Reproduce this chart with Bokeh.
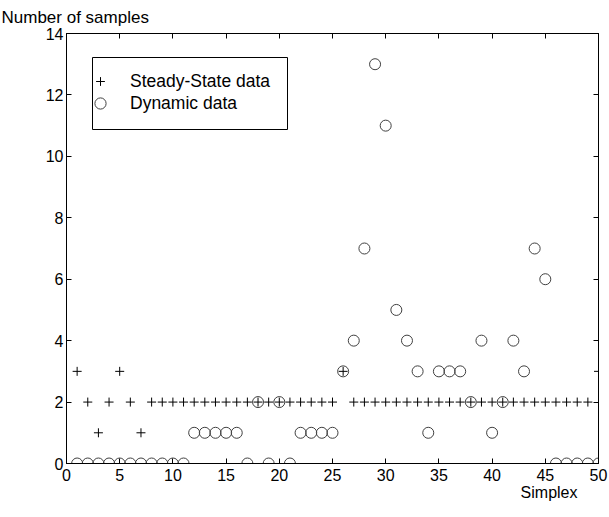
from bokeh.plotting import figure
from bokeh.models import (Range1d, FixedTicker, LinearAxis, Legend, LegendItem,
                          Title, BoxAnnotation, ColumnDataSource)
from bokeh.embed import file_html
from bokeh.resources import INLINE

# ---- data ----
simplex = list(range(1, 51))
steady_state = [3, 2, 1, 2, 3, 2, 1, 2, 2, 2,
                2, 2, 2, 2, 2, 2, 2, 2, 2, 2,
                2, 2, 2, 2, 2, 3, 2, 2, 2, 2,
                2, 2, 2, 2, 2, 2, 2, 2, 2, 2,
                2, 2, 2, 2, 2, 2, 2, 2, 2, 3]
dynamic = [0, 0, 0, 0, 0, 0, 0, 0, 0, 0,
           0, 1, 1, 1, 1, 1, 0, 2, 0, 2,
           0, 1, 1, 1, 1, 3, 4, 7, 13, 11,
           5, 4, 3, 1, 3, 3, 3, 2, 4, 1,
           2, 4, 3, 7, 6, 0, 0, 0, 0, 0]
x_ticks = [0, 5, 10, 15, 20, 25, 30, 35, 40, 45, 50]
y_ticks = [0, 2, 4, 6, 8, 10, 12, 14]
x_label = "Simplex"
y_label = "Number of samples"
series_names = ["Steady-State data", "Dynamic data"]

FONT = "Liberation Sans"
X0, X1, Y0, Y1 = 0, 50, 0, 14
FW, FH = 532, 430

src = ColumnDataSource(dict(x=simplex, ss=steady_state, dyn=dynamic))

p = figure(frame_width=FW, frame_height=FH,
           min_border_left=66, min_border_right=11,
           min_border_top=33, min_border_bottom=54,
           x_range=Range1d(X0, X1), y_range=Range1d(Y0, Y1),
           output_backend="svg", toolbar_location=None, title=None,
           x_axis_location=None, y_axis_location=None)
p.grid.visible = False
p.outline_line_color = "black"
p.outline_line_width = 1
p.background_fill_color = "white"
p.border_fill_color = "white"

def make_axis(ticks, show_labels):
    ax = LinearAxis(ticker=FixedTicker(ticks=ticks))
    ax.major_tick_in = 5
    ax.major_tick_out = 0
    ax.minor_tick_line_color = None
    ax.axis_line_color = "black"
    ax.major_tick_line_color = "black"
    ax.major_label_text_font = FONT
    ax.major_label_text_font_size = "16px"
    ax.major_label_text_color = "black"
    if not show_labels:
        # tick marks only (box style), labels not drawn
        ax.major_label_text_font_size = "1px"
        ax.major_label_text_color = None
        ax.major_label_standoff = 0
    return ax

bottom = make_axis(x_ticks, True)
bottom.major_label_standoff = 5
left = make_axis(y_ticks, True)
left.major_label_standoff = 3
top = make_axis(x_ticks, False)
right = make_axis(y_ticks, False)
p.add_layout(bottom, "below")
p.add_layout(left, "left")
p.add_layout(top, "above")
p.add_layout(right, "right")

# axis titles, placed outside the frame
p.add_layout(Title(text=y_label, align="left", offset=-65, standoff=9,
                   vertical_align="top",
                   text_font=FONT, text_font_size="17px",
                   text_font_style="normal", text_color="black"), "above")
p.add_layout(Title(text=x_label, align="right", offset=21, standoff=0,
                   vertical_align="top",
                   text_font=FONT, text_font_size="16px",
                   text_font_style="normal", text_color="black"), "below")

r_dyn = p.scatter("x", "dyn", source=src, marker="circle", size=11,
                  fill_color=None, line_color="#404040", line_width=1)
r_ss = p.scatter("x", "ss", source=src, marker="cross", size=9,
                 line_color="black", line_width=1)

# legend frame (pixel box converted to data units)
def px_x(px):
    return X0 + (px - 66) / FW * (X1 - X0)

def px_y(py):
    return Y0 + (33 + FH - py) / FH * (Y1 - Y0)

p.add_layout(BoxAnnotation(left=px_x(92), right=px_x(287),
                           top=px_y(57), bottom=px_y(129),
                           fill_color="white", fill_alpha=1,
                           line_color="black", line_alpha=1, line_width=1))

def make_legend(label, renderer, glyph, loc, standoff):
    lg = Legend(items=[LegendItem(label=label, renderers=[renderer])],
                location=loc)
    lg.padding = 0
    lg.margin = 0
    lg.spacing = 0
    lg.glyph_width = glyph
    lg.glyph_height = glyph
    lg.label_height = glyph
    lg.label_standoff = standoff
    lg.label_text_font = FONT
    lg.label_text_font_size = "17.5px"
    lg.label_text_color = "black"
    lg.border_line_color = None
    lg.background_fill_alpha = 0
    return lg

p.add_layout(make_legend(series_names[0], r_ss, 22, (23, 371), 19), "center")
p.add_layout(make_legend(series_names[1], r_dyn, 28, (20, 346), 16), "center")

open("out.html", "w").write(file_html(p, INLINE))
